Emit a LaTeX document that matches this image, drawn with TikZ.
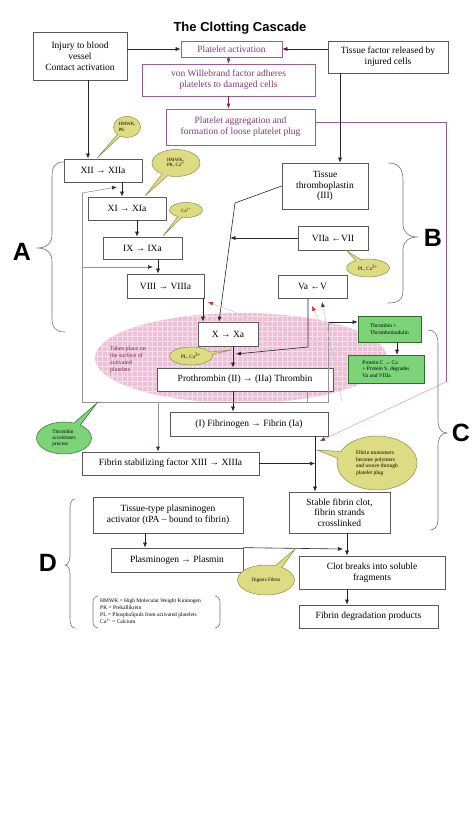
\documentclass[tikz,border=0pt]{standalone}
\usepackage{fontspec}
\setmainfont{Liberation Serif}
\newfontfamily\headfont{Liberation Sans}
\usetikzlibrary{arrows.meta,shapes.callouts,shapes.geometric}
\definecolor{boxline}{RGB}{90,90,90}
\definecolor{purp}{RGB}{160,90,150}
\definecolor{purptext}{RGB}{125,60,120}
\definecolor{purparrow}{RGB}{125,40,105}
\definecolor{purpfaint}{RGB}{215,170,205}
\definecolor{calloutfill}{RGB}{222,220,130}
\definecolor{calloutline}{RGB}{140,140,80}
\definecolor{greenfill}{RGB}{125,212,120}
\definecolor{greenline}{RGB}{45,110,45}
\definecolor{pinkfill}{RGB}{236,192,214}
\definecolor{pinkgrid}{RGB}{247,224,236}
\definecolor{feedback}{RGB}{150,150,150}
\definecolor{feedfaint}{RGB}{200,200,200}
\definecolor{arrowgreen}{RGB}{20,80,20}
\definecolor{arrowred}{RGB}{215,40,40}
\definecolor{redfaint}{RGB}{235,190,200}
\definecolor{platetext}{RGB}{120,40,70}
\tikzset{
  box/.style={draw=boxline, line width=0.7pt, fill=white, inner sep=1pt, align=center,
    font=\fontsize{9.5}{10.8}\selectfont},
  pbox/.style={box, draw=purp, text=purptext},
  gbox/.style={draw=greenline, line width=0.6pt, fill=greenfill, inner sep=2pt, align=left,
    font=\fontsize{5.5}{6.6}\selectfont},
  arr/.style={-{Latex[length=5pt,width=4pt]}, line width=0.6pt, draw=black!85},
  parr/.style={-{Latex[length=5pt,width=4pt]}, line width=0.6pt, draw=purparrow},
  fb/.style={draw=feedback, line width=0.6pt},
  garr/.style={-{Latex[length=5pt,width=4pt,color=arrowgreen]}, line width=0.6pt, draw=feedback},
  gfaint/.style={-{Latex[length=5pt,width=4pt,color=arrowgreen]}, line width=0.5pt, draw=feedfaint},
  rfaint/.style={-{Latex[length=5pt,width=4pt,color=arrowred]}, line width=0.5pt, draw=redfaint},
  pfaint/.style={-{Latex[length=5pt,width=4pt,color=purparrow]}, line width=0.6pt, draw=purpfaint},
  bubble/.style={ellipse callout, draw=calloutline, fill=calloutfill, line width=0.5pt,
    inner sep=0pt, align=left},
  gbubble/.style={bubble, draw=greenline, fill=greenfill},
  bracestyle/.style={draw=black!55, line width=0.6pt},
  letter/.style={font=\headfont\bfseries\fontsize{25}{25}\selectfont, inner sep=0pt},
  gridline/.style={draw=pinkgrid, line width=0.5pt},
}
\begin{document}
\begin{tikzpicture}[x=1pt,y=-1pt]
\fill[white] (0,0) rectangle (474,819);
\useasboundingbox (0,0) rectangle (474,819);

% pink platelet-surface ellipse with grid
\begin{scope}
  \clip (241,358) ellipse [x radius=146, y radius=45];
  \fill[pinkfill] (90,310) rectangle (390,405);
  \foreach \gx in {92,97,...,392} {\draw[gridline] (\gx,310) -- (\gx,405);}
  \foreach \gy in {311,316,...,406} {\draw[gridline] (90,\gy) -- (390,\gy);}
\end{scope}
\node[anchor=north west, align=left, inner sep=0pt, text=platetext,
  font=\fontsize{6}{7.2}\selectfont] (surface) at (110,346)
  {Takes place on\\the surface of\\activated\\platelets};

% title
\node[font=\headfont\bfseries\fontsize{13}{13}\selectfont] (title) at (240,28) {The Clotting Cascade};

% top boxes
\node[box, minimum width=94pt, minimum height=48pt] (injury) at (80,56)
  {Injury to blood\\vessel\\Contact activation};
\node[pbox, minimum width=101pt, minimum height=16pt] (plact) at (231.5,49) {Platelet activation};
\node[pbox, minimum width=173pt, minimum height=32pt] (vwf) at (228.5,80)
  {von Willebrand factor adheres\\platelets to damaged cells};
\node[pbox, minimum width=149pt, minimum height=36pt] (agg) at (240.5,127)
  {Platelet aggregation and\\formation of loose platelet plug};
\node[box, minimum width=120pt, minimum height=32pt] (tf) at (388,57)
  {Tissue factor released by\\injured cells};

% intrinsic pathway
\node[box, minimum width=78pt, minimum height=23pt] (xii) at (103,170.5) {XII → XIIa};
\node[box, minimum width=78pt, minimum height=23pt] (xi) at (127,208.5) {XI → XIa};
\node[box, minimum width=79pt, minimum height=22pt] (ix) at (142.5,248) {IX → IXa};
\node[box, minimum width=77pt, minimum height=24pt] (viii) at (165.5,286) {VIII → VIIIa};

% extrinsic pathway
\node[box, minimum width=86pt, minimum height=46pt] (tt) at (325,186)
  {Tissue\\thromboplastin\\(III)};
\node[box, minimum width=70pt, minimum height=24pt] (vii) at (333,238) {VIIa ←VII};
\node[box, minimum width=69pt, minimum height=23pt] (va) at (312.5,286.5) {Va ←V};

% common pathway
\node[box, minimum width=60pt, minimum height=24pt] (x) at (228,334) {X → Xa};
\node[box, minimum width=176pt, minimum height=23pt] (pro) at (245,379.5)
  {Prothrombin (II) → (IIa) Thrombin};
\node[box, minimum width=158pt, minimum height=24pt] (fib) at (249,424)
  {(I) Fibrinogen → Fibrin (Ia)};
\node[box, minimum width=177pt, minimum height=23pt] (fsf) at (170.5,463.5)
  {Fibrin stabilizing factor XIII → XIIIa};
\node[box, minimum width=101pt, minimum height=41pt] (clot) at (339.5,512.5)
  {Stable fibrin clot,\\fibrin strands\\crosslinked};

% fibrinolysis
\node[box, minimum width=150pt, minimum height=36pt] (tpa) at (168,515)
  {Tissue-type plasminogen\\activator (tPA – bound to fibrin)};
\node[box, minimum width=132pt, minimum height=24pt] (plas) at (177,560)
  {Plasminogen → Plasmin};
\node[box, minimum width=146pt, minimum height=33pt] (brk) at (372,572.5)
  {Clot breaks into soluble\\fragments};
\node[box, minimum width=139pt, minimum height=23pt] (fdp) at (368.5,616.5)
  {Fibrin degradation products};

% green boxes
\node[gbox, minimum width=63pt, minimum height=26pt] (tm) at (389.5,329)
  {Thrombin +\\Thrombomodulin};
\node[gbox, minimum width=76pt, minimum height=28pt] (pc) at (386,369)
  {Protein C → Ca\\+ Protein S, degrades\\Va and VIIIa};

% coordinates for connectors
\coordinate (tj) at (235,203);
\coordinate (j1) at (230.3,238);
\coordinate (vaj) at (308,347);
\coordinate (vaend) at (236,354);
\coordinate (vline) at (315,0);
\coordinate (pj) at (343,549);
\coordinate (tmj) at (328,322);
\coordinate (pr1) at (446,122);
\coordinate (pr2) at (446,382);
\coordinate (pr3) at (320,441);
\coordinate (fbR) at (307,402);
\coordinate (fbR2) at (328,402);
\coordinate (fbL) at (82,402);
\coordinate (fbT) at (82,193);
\coordinate (fbXI) at (117,187);
\coordinate (fbM) at (82,267);
\coordinate (fbVIII) at (153,267);
\coordinate (fbF) at (158,402);
\coordinate (fbV1) at (342,402);
\coordinate (fbVa) at (322,302);
\coordinate (redVa) at (312,306);
\coordinate (redVIII) at (208,302);

% top connectors
\draw[arr] (injury.east |- plact.west) -- (plact.west);
\draw[arr] (tf.west |- plact.east) -- (plact.east);
\draw[parr] (plact.south -| vwf.north) -- (vwf.north);
\draw[parr] (vwf.south) -- (vwf.south |- agg.north);
\draw[draw=purp, line width=0.6pt] ([yshift=5pt]agg.east) -- (pr1) -- (pr2);
\draw[pfaint] (pr2) -- (pr3);
\draw[arr] ([xshift=-15pt]xii.north |- injury.south) -- ([xshift=-15pt]xii.north);
\draw[arr] ([xshift=15pt]tt.north |- tf.south) -- ([xshift=15pt]tt.north);

% intrinsic connectors
\draw[arr] ([xshift=-5pt]xi.north |- xii.south) -- ([xshift=-5pt]xi.north);
\draw[arr] ([xshift=-5.5pt]ix.north |- xi.south) -- ([xshift=-5.5pt]ix.north);
\draw[arr] ([xshift=-7.5pt]viii.north |- ix.south) -- ([xshift=-7.5pt]viii.north);
\draw[arr] ([xshift=-25pt]x.north |- viii.south) -- ([xshift=-25pt]x.north);

% extrinsic connectors
\draw[arr] (tt.west) -- (tj) -- ([xshift=-9pt]x.north);
\draw[arr] (vii.west) -- (j1);
\draw[arr] ([xshift=-4.5pt]va.south) -- (vaj) -- (vaend);

% common connectors
\draw[arr] ([xshift=5pt]x.south) -- ([xshift=5pt]x.south |- pro.north);
\draw[arr] ([xshift=5pt]x.south |- pro.south) -- ([xshift=5pt]x.south |- fib.north);
\draw[arr] (fib.south -| vline) -- (clot.north -| vline);
\draw[arr] (fsf.east) -- (fsf.east -| vline);
\draw[arr] (tmj) -- (tmj -| tm.west);
\draw[arr] ([xshift=7.5pt]tm.south) -- ([xshift=7.5pt]tm.south |- pc.north);

% fibrinolysis connectors
\draw[arr] ([xshift=-23pt]tpa.south) -- ([xshift=-23pt]tpa.south |- plas.north);
\draw[arr] (plas.north east) -- (pj);
\draw[arr] ([xshift=7.5pt]clot.south) -- ([xshift=7.5pt]clot.south |- brk.north);
\draw[arr] ([xshift=-25pt]brk.south) -- ([xshift=-25pt]brk.south |- fdp.north);

% thrombin feedback lines
\draw[fb] (pro.south -| fbR) -- (fbR) -- (fbL) -- (fbT);
\draw[garr] (fbT) -- (fbXI);
\draw[garr] (fbM) -- (fbVIII);
\draw[garr] (fbF) -- ([xshift=-12.5pt]fsf.north);
\draw[fb] (fbR) -- (fbR2) -- (tmj);
\draw[gfaint] (fbV1) -- (fbVa);
\draw[rfaint] (pc.south west) -- (redVa);
\draw[rfaint] (pc.north west) -- (redVIII);

% callouts
\node[bubble, minimum width=27pt, minimum height=21pt, font=\fontsize{4.8}{5.3}\selectfont,
  callout absolute pointer={(97,158)}] (c1) at (127,127) {HMWK,\\PK};
\node[bubble, minimum width=48pt, minimum height=27pt, font=\fontsize{4.8}{5.3}\selectfont,
  callout absolute pointer={(145,196)}] (c2) at (176,163) {HMWK,\\PK, Ca\textsuperscript{2+}};
\node[bubble, minimum width=33pt, minimum height=15pt, font=\fontsize{4.8}{5.3}\selectfont,
  callout absolute pointer={(163,236)}] (c3) at (186,210) {Ca\textsuperscript{2+}};
\node[bubble, minimum width=43pt, minimum height=18pt, font=\fontsize{5}{5.6}\selectfont,
  callout absolute pointer={(347,251)}] (c4) at (368,268) {PL, Ca\textsuperscript{2+}};
\node[bubble, minimum width=43pt, minimum height=18pt, font=\fontsize{5}{5.6}\selectfont,
  callout absolute pointer={(232,350)}] (c5) at (191,356) {PL, Ca\textsuperscript{2+}};
\node[gbubble, minimum width=55pt, minimum height=32pt, font=\fontsize{5.3}{6.2}\selectfont,
  callout absolute pointer={(97,403)}] (c6) at (64,438) {Thrombin\\accelerates\\process};
\node[bubble, minimum width=80pt, minimum height=54pt, font=\fontsize{5.5}{6.5}\selectfont,
  callout absolute pointer={(317,450)}] (c7) at (377,463)
  {Fibrin monomers\\become polymers\\and weave through\\platelet plug};
\node[bubble, minimum width=57pt, minimum height=30pt, font=\fontsize{5}{6}\selectfont,
  callout absolute pointer={(295,549)}] (c8) at (266,580) {Digests Fibrin};

% braces
\draw[bracestyle] (64,162) .. controls (55,162) and (52,166) .. (52,178) -- (52,234)
  .. controls (52,244) and (46,248) .. (37,248) .. controls (46,248) and (52,252) .. (52,262)
  -- (52,318) .. controls (52,328) and (56,332) .. (65,332);
\draw[bracestyle] (388,163) .. controls (398,163) and (403,168) .. (403,180) -- (403,224)
  .. controls (403,233) and (409,237) .. (418,237) .. controls (409,237) and (403,241) .. (403,250)
  -- (403,290) .. controls (403,300) and (398,303) .. (388,303);
\draw[bracestyle] (428,330) .. controls (434,330) and (438,334) .. (438,344) -- (438,420)
  .. controls (438,428) and (441,433) .. (447,433) .. controls (441,433) and (438,438) .. (438,446)
  -- (438,520) .. controls (438,527) and (434,530) .. (430,530);
\draw[bracestyle] (75,499) .. controls (72,499) and (70,502) .. (70,508) -- (70,556)
  .. controls (70,561) and (68,565) .. (65,565) .. controls (68,565) and (70,569) .. (70,574)
  -- (70,619) .. controls (70,625) and (72,628) .. (75,628);
\node[letter] (A) at (22,252) {A};
\node[letter] (B) at (433,238) {B};
\node[letter] (C) at (461,433) {C};
\node[letter] (D) at (48,563) {D};

% legend
\draw[bracestyle] (98,596) .. controls (94,597) and (93,599) .. (93,603) -- (93,621)
  .. controls (93,625) and (94,627) .. (98,628);
\draw[bracestyle] (215,596) .. controls (219,597) and (220,599) .. (220,603) -- (220,621)
  .. controls (220,625) and (219,627) .. (215,628);
\node[anchor=north west, align=left, inner sep=0pt, font=\fontsize{5.5}{7}\selectfont] (legend)
  at (100,598) {HMWK = High Molecular Weight Kininogen\\PK = Prekallikrein\\PL = Phospholipids from activated platelets\\Ca\textsuperscript{2+} = Calcium};
\end{tikzpicture}
\end{document}
